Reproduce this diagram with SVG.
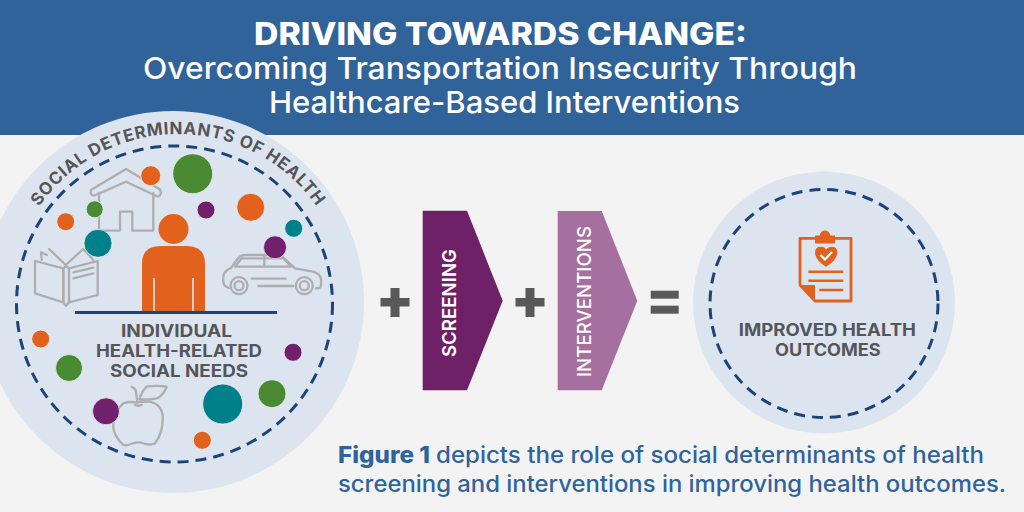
<svg xmlns="http://www.w3.org/2000/svg" width="1024" height="512" viewBox="0 0 1024 512">
<defs>
<style>
text{font-family:"Inter","Liberation Sans",sans-serif}
.t{fill:#fff;text-anchor:start}
.lab{fill:#55555a;font-weight:700;font-size:17px}
.dash{fill:none;stroke:#1c4478;stroke-width:3;stroke-dasharray:11 7}
.ic{fill:none;stroke:#aeaeb0;stroke-width:2.300;stroke-linejoin:round;stroke-linecap:round}
.o{fill:#e2611d}.g{fill:#4a8a32}.p{fill:#71216c}.c{fill:#00808a}
.dot circle{stroke:#eef3f8;stroke-width:.8}
.op{fill:#595959}
</style>
<path id="arc" d="M9 303A169 169 0 0 1 347 303"/>
</defs>
<rect width="1024" height="512" fill="#f4f3f4"/>
<rect id="header" width="1024" height="135" fill="#30639a"/>
<g id="title">
<text class="t" x="254" y="45" font-size="31" font-weight="800" textLength="493" lengthAdjust="spacingAndGlyphs">DRIVING TOWARDS CHANGE:</text>
<text class="t" x="143" y="79" font-size="30" font-weight="500" textLength="714" lengthAdjust="spacingAndGlyphs">Overcoming Transportation Insecurity Through</text>
<text class="t" x="269" y="113" font-size="30" font-weight="500" textLength="471" lengthAdjust="spacingAndGlyphs">Healthcare-Based Interventions</text>
</g>
<g id="social-determinants">
<circle cx="173" cy="302" r="191" fill="#dce5ef"/>
<circle class="dash" cx="174.5" cy="304" r="158"/>
<text font-size="17" font-weight="700" fill="#55555a" letter-spacing=".75"><textPath href="#arc" startOffset="50%" text-anchor="middle">SOCIAL DETERMINANTS OF HEALTH</textPath></text>
<g id="house" class="ic">
<path d="M126 169L160 189.500Q162.500 195 158 196.700L126 181.700L94 195.700Q89.500 195 91 190Z"/>
<path d="M99 193V230.700H120V211.700H132.300V230.700H153.300V193"/>
</g>
<g id="book" class="ic">
<path d="M35 261L63.300 268.300V302.300L35 293.300Z"/>
<path d="M69 268.300L97.700 261V295L69 302.300Z"/>
<path d="M63.300 268.300L66 266L69 268.300V302.300L66 305.700L63.300 302.300Z"/>
<path d="M41.700 260L41 252.300L47 255M49 249L65.700 265L83.300 249L93.300 260"/>
<path d="M73.300 272.300L93.300 267.700M73.300 278.300L93.300 273.300"/>
</g>
<g id="car" class="ic">
<path d="M229 288Q223.300 286 223.300 281.700V276Q224 271 231 268L238.300 258Q241 255 245 255H278Q281 255 284 258L295 268.300L313 271.700Q321 274 321 280V286Q321 288 316 288.500M293.500 286H258.300M250.500 286"/>
<path d="M235 266.700L241.700 258.300H283L291.500 266.700ZM264.300 255V266.700"/>
<path d="M251.700 278.700H285.700"/>
<circle cx="239" cy="285.700" r="8.500"/><circle cx="239" cy="285.700" r="4.500"/>
<circle cx="304.300" cy="285.700" r="8.500"/><circle cx="304.300" cy="285.700" r="4.500"/>
</g>
<g id="apple" class="ic">
<path d="M136.700 402.700Q144 401 150 401.700Q162.700 405 162.700 418Q163 433 155 443.300Q150 446 141.700 442.700Q137 442 133.300 443.300Q127 446 123.300 445Q113.300 435 113.300 426.700Q113 412 123.300 403.300Q130 401 136.700 402.700Z"/>
<path d="M131.700 386.700Q136 389 136 391.700L137.300 402.700M135 405Q138 406.500 141.700 405"/>
<path d="M139.300 399.300Q142 391 146.700 386.700Q156 385 166.700 386.700Q163 396 156.700 398.300Q148 400 139.300 399.300Z"/>
</g>
<g id="person">
<circle class="o" cx="173.500" cy="229" r="15"/>
<path class="o" d="M142 311V264Q142 246 160 246H187Q205 246 205 264V311Z"/>
<path d="M154 278V311M193 278V311" stroke="#dce5ef" stroke-width="1.600" fill="none"/>
<path d="M75 312.500H277" stroke="#1c4478" stroke-width="3"/>
</g>
<g id="dots" class="dot">
<circle class="o" cx="150.700" cy="175.700" r="10"/>
<circle class="g" cx="192.700" cy="173.700" r="20"/>
<circle class="g" cx="94.700" cy="209.300" r="8.500"/>
<circle class="p" cx="206" cy="210" r="9"/>
<circle class="o" cx="250.700" cy="207.300" r="14"/>
<circle class="c" cx="293.700" cy="228.300" r="9"/>
<circle class="o" cx="65.700" cy="221.700" r="9"/>
<circle class="c" cx="98" cy="243.300" r="14"/>
<circle class="p" cx="275" cy="247.300" r="11.500"/>
<circle class="o" cx="40.700" cy="339" r="9"/>
<circle class="g" cx="69" cy="368" r="13.500"/>
<circle class="p" cx="293" cy="352.300" r="9"/>
<circle class="g" cx="272" cy="393.700" r="14"/>
<circle class="c" cx="222.700" cy="404" r="20"/>
<circle class="p" cx="106" cy="411.300" r="13.500"/>
<circle class="o" cx="202.300" cy="440.300" r="9"/>
</g>
<text class="lab" x="121" y="336.700" textLength="111" lengthAdjust="spacingAndGlyphs">INDIVIDUAL</text>
<text class="lab" x="96" y="357" textLength="166" lengthAdjust="spacingAndGlyphs">HEALTH-RELATED</text>
<text class="lab" x="110" y="377" textLength="138" lengthAdjust="spacingAndGlyphs">SOCIAL NEEDS</text>
</g>
<g id="plus-1" class="op"><rect x="380.500" y="298" width="29" height="8.500"/><rect x="390.500" y="288" width="9" height="29"/></g>
<g id="screening">
<path d="M422.700 210.700H467L502.700 300.700L467 390.300H422.700Z" fill="#6f2168"/>
<text transform="translate(456 357) rotate(-90)" fill="#fff" font-size="19" font-weight="600" textLength="108" lengthAdjust="spacingAndGlyphs">SCREENING</text>
</g>
<g id="plus-2" class="op"><rect x="515.500" y="298" width="29" height="8.500"/><rect x="525.500" y="288" width="9" height="29"/></g>
<g id="interventions">
<path d="M557.700 211H601.700L637.300 300.700L601.700 390.300H557.700Z" fill="#a5709f"/>
<text transform="translate(590.700 377) rotate(-90)" fill="#fff" font-size="19" font-weight="500" textLength="151" lengthAdjust="spacingAndGlyphs">INTERVENTIONS</text>
</g>
<g id="equals" class="op"><rect x="650.700" y="290.700" width="28" height="8"/><rect x="650.700" y="305.700" width="28" height="8"/></g>
<g id="outcomes">
<circle cx="824" cy="302.500" r="131" fill="#dce5ef"/>
<circle class="dash" cx="824" cy="303.500" r="114"/>
<g id="clipboard">
<path d="M815 238.300H800V285L815 301H851V238.300H835" fill="none" stroke="#e2611d" stroke-width="2.800" stroke-linejoin="round"/>
<path class="o" d="M815 243.500V235.500H819.500Q821 230.500 825 230.500Q829 230.500 830.500 235.500H835V243.500Z"/>
<path class="o" d="M800 285H815V301Z"/>
<path class="o" d="M826 266.700Q815 260 815 252.500Q815 246.700 821 246.700Q824.500 246.700 826 249.500Q828 246.700 831.500 246.700Q837.300 246.700 837.300 252.500Q837.300 260 826 266.700Z"/>
<path d="M820.500 255L825 259.500L832 252" fill="none" stroke="#fff" stroke-width="2.200"/>
<path d="M808.300 271.700H843.300M808.300 280.700H843.300M819.300 290H843.300" stroke="#e2611d" stroke-width="2.500"/>
</g>
<text class="lab" x="738.700" y="335.700" textLength="177.300" lengthAdjust="spacingAndGlyphs">IMPROVED HEALTH</text>
<text class="lab" x="775" y="355.700" textLength="105.700" lengthAdjust="spacingAndGlyphs">OUTCOMES</text>
</g>
<g id="caption" fill="#30639a" font-size="22.500" font-weight="500">
<text x="338" y="463" font-weight="800" textLength="92" lengthAdjust="spacingAndGlyphs">Figure 1</text>
<text x="436" y="463" textLength="548" lengthAdjust="spacingAndGlyphs">depicts the role of social determinants of health</text>
<text x="338" y="492" textLength="668" lengthAdjust="spacingAndGlyphs">screening and interventions in improving health outcomes.</text>
</g>
</svg>
